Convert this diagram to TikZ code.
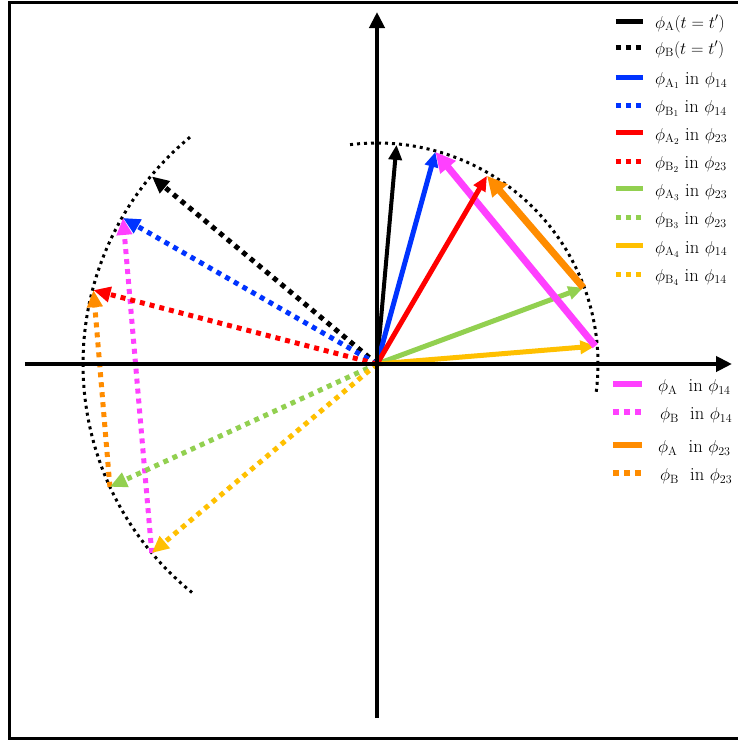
\documentclass[tikz,border=0pt]{standalone}
\usetikzlibrary{arrows.meta}
\definecolor{cblue}{RGB}{0,51,255}
\definecolor{cred}{RGB}{255,0,0}
\definecolor{cgreen}{RGB}{146,208,80}
\definecolor{cyellow}{RGB}{255,192,0}
\definecolor{cmag}{RGB}{255,64,255}
\definecolor{corange}{RGB}{255,140,0}
\begin{document}
\begin{tikzpicture}[x=1pt,y=1pt,
  axisline/.style={line width=4pt, -{Triangle[length=16pt,width=15pt]}},
  solidA/.style={line width=5pt},
  thickA/.style={line width=7pt},
  dotB/.style={line width=5pt, dash pattern=on 5pt off 5pt},
  arcdot/.style={line width=3pt, dash pattern=on 3pt off 4pt},
  headS/.style={-{Triangle[length=15pt,width=13pt]}},
  headL/.style={-{Triangle[length=20pt,width=19pt]}},
  headD/.style={-{Triangle[length=17pt,width=15pt]}},
  lgline/.style={line width=5pt},
  lgdot/.style={line width=5pt, dash pattern=on 5pt off 5pt},
  lglineB/.style={line width=6pt},
  lgdotB/.style={line width=6pt, dash pattern=on 6pt off 5pt},
  lg/.style={anchor=base west, font=\fontsize{18.5}{22}\selectfont, inner sep=0pt},
]
\useasboundingbox (-377,-376) rectangle (361,364);
% frame
\draw[line width=3pt] (370,361.5) -- (-367.5,361.5) -- (-367.5,-374.5) -- (370,-374.5);

\coordinate (O) at (0,0);
% right tips (r = 220)
\coordinate (a0) at (84.9:220);
\coordinate (a1) at (74.6:220);
\coordinate (a2) at (59.7:218);
\coordinate (a3) at (20.3:220);
\coordinate (a4) at (4.7:219);
% left tips (r = 294)
\coordinate (b0) at (140.2:293);
\coordinate (b1) at (150.1:293);
\coordinate (b2) at (165.4:293);
\coordinate (b3) at (204.7:294);
\coordinate (b4) at (220.0:294);

% arcs
\draw[arcdot] (97:221) arc[start angle=97, end angle=-8, radius=221];
\draw[arcdot] (129.5:294) arc[start angle=129.5, end angle=231, radius=294];

% left dotted arrows
\draw[dotB, cmag, headD] (b4) -- (b1);
\draw[dotB, corange, headD] (b3) -- (b2);
\draw[dotB, black, headD] (O) -- (b0);
\draw[dotB, cblue, headD] (O) -- (b1);
\draw[dotB, cred, headD] (O) -- (b2);
\draw[dotB, cgreen, headD] (O) -- (b3);
\draw[dotB, cyellow, headD] (O) -- (b4);

% right solid arrows
\draw[line width=4pt, black, headS] (O) -- (a0);
\draw[solidA, cgreen, headS] (O) -- (a3);
\draw[solidA, cyellow, headS] (O) -- (a4);
\draw[solidA, cblue, headS] (O) -- (a1);
\draw[thickA, cmag, headL] (a4) -- (a1);
\draw[solidA, cred, headS] (O) -- (a2);
\draw[thickA, corange, headL] (a3) -- (a2);

% axes
\coordinate (xl) at (-352,0);
\coordinate (xr) at (355,0);
\coordinate (yb) at (0,-354);
\coordinate (yt) at (0,352);
\draw[axisline] (xl) -- (xr);
\draw[axisline] (yb) -- (yt);

% legend (upper)
\draw[lgline, black] (239,342.3) -- (266,342.3);
\node[lg] (l1) at (278,336) {$\phi_{\mathrm{A}}(t=t')$};
\draw[lgdot, black] (239,316.3) -- (266,316.3);
\node[lg] (l2) at (278,310) {$\phi_{\mathrm{B}}(t=t')$};
\draw[lgline, cblue] (239,286.7) -- (266,286.7);
\node[lg] (l3) at (278,279.5) {$\phi_{\mathrm{A}_1}$\ in $\phi_{14}$};
\draw[lgdot, cblue] (239,258.7) -- (266,258.7);
\node[lg] (l4) at (278,251.5) {$\phi_{\mathrm{B}_1}$\ in $\phi_{14}$};
\draw[lgline, cred] (239,231.3) -- (266,231.3);
\node[lg] (l5) at (278,224) {$\phi_{\mathrm{A}_2}$\ in $\phi_{23}$};
\draw[lgdot, cred] (239,203) -- (266,203);
\node[lg] (l6) at (278,196) {$\phi_{\mathrm{B}_2}$\ in $\phi_{23}$};
\draw[lgline, cgreen] (239,175.3) -- (266,175.3);
\node[lg] (l7) at (278,168) {$\phi_{\mathrm{A}_3}$\ in $\phi_{23}$};
\draw[lgdot, cgreen] (239,146.7) -- (266,146.7);
\node[lg] (l8) at (278,139.5) {$\phi_{\mathrm{B}_3}$\ in $\phi_{23}$};
\draw[lgline, cyellow] (239,118.3) -- (266,118.3);
\node[lg] (l9) at (278,111) {$\phi_{\mathrm{A}_4}$ in $\phi_{14}$};
\draw[lgdot, cyellow] (239,90) -- (266,90);
\node[lg] (l10) at (278,83) {$\phi_{\mathrm{B}_4}$ in $\phi_{14}$};

% legend (lower)
\draw[lglineB, cmag] (236,-20) -- (265,-20);
\node[lg] (m1) at (281,-27.5) {$\phi_{\mathrm{A}}$\ \ in $\phi_{14}$};
\draw[lgdotB, cmag] (236,-48) -- (265,-48);
\node[lg] (m2) at (283,-55.5) {$\phi_{\mathrm{B}}$\ \ in $\phi_{14}$};
\draw[lglineB, corange] (236,-81) -- (265,-81);
\node[lg] (m3) at (281,-88.5) {$\phi_{\mathrm{A}}$\ \ in $\phi_{23}$};
\draw[lgdotB, corange] (236,-109) -- (265,-109);
\node[lg] (m4) at (283,-116.5) {$\phi_{\mathrm{B}}$\ \ in $\phi_{23}$};
\end{tikzpicture}
\end{document}
